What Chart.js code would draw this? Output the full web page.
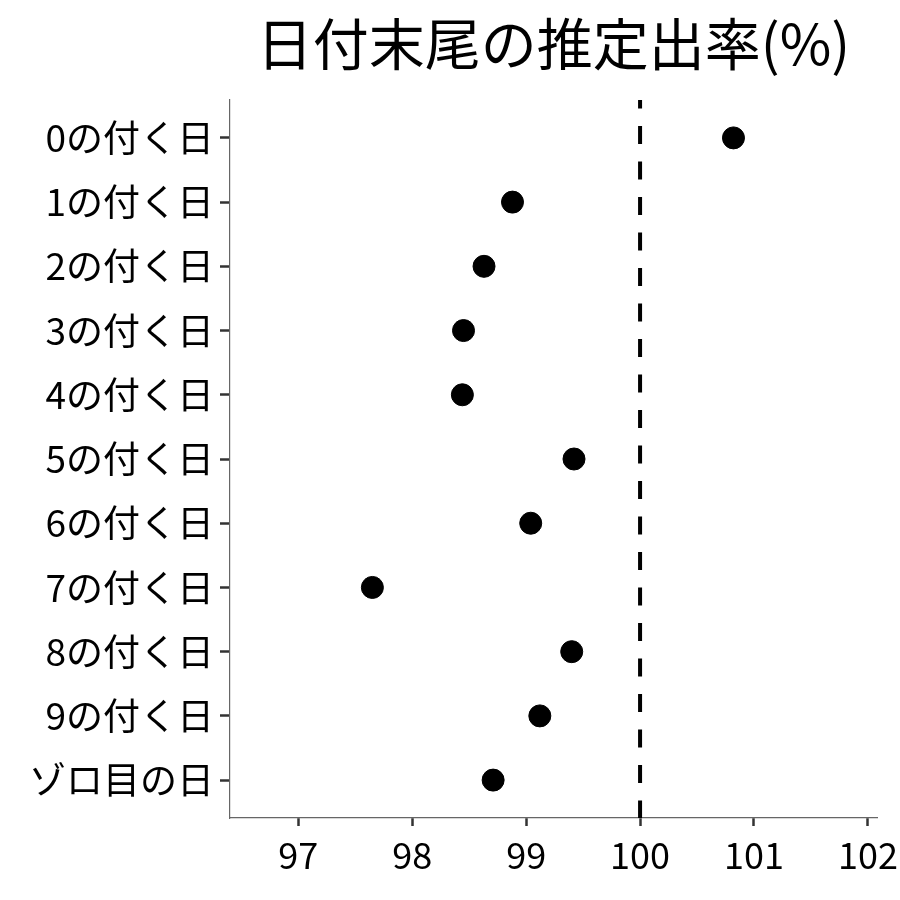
<!DOCTYPE html>
<html>
<head>
<meta charset="utf-8">
<script src="https://cdn.jsdelivr.net/npm/chart.js@4.4.1/dist/chart.umd.min.js"></script>
<style>
  html, body { margin: 0; padding: 0; background: #fff; }
  #wrap { width: 900px; height: 900px; }
</style>
</head>
<body>
<div id="wrap"><canvas id="chart" width="900" height="900"></canvas></div>
<script>
// ---- data ----
const titleText = '日付末尾の推定出率(%)';
const categories = ['0の付く日', '1の付く日', '2の付く日', '3の付く日', '4の付く日',
    '5の付く日', '6の付く日', '7の付く日', '8の付く日', '9の付く日', 'ゾロ目の日'];
const rates = [100.82, 98.88, 98.63, 98.45, 98.44, 99.42, 99.04, 97.65, 99.40, 99.12, 98.71];
const xTicks = [97, 98, 99, 100, 101, 102];
const refValue = 100;

const FONT = "'Noto Sans CJK JP', 'Noto Sans', sans-serif";

// dashed reference line at 100 + title centred over the panel
const refLinePlugin = {
    id: 'refLine',
    afterDatasetsDraw(chart) {
        const { ctx, chartArea, scales } = chart;
        const x = scales.x.getPixelForValue(refValue);
        ctx.save();
        ctx.strokeStyle = '#000';
        ctx.lineWidth = 4;
        ctx.setLineDash([18, 17.5]);
        ctx.lineDashOffset = 9.5;
        ctx.beginPath();
        ctx.moveTo(x, chartArea.top);
        ctx.lineTo(x, chartArea.bottom);
        ctx.stroke();
        ctx.restore();
    },
    afterDraw(chart) {
        const { ctx, chartArea } = chart;
        ctx.save();
        ctx.fillStyle = '#000';
        ctx.font = `56px ${FONT}`;
        ctx.textAlign = 'center';
        ctx.textBaseline = 'middle';
        ctx.fillText(titleText, (chartArea.left + chartArea.right) / 2, 44);
        ctx.restore();
    },
};

const ctx = document.getElementById('chart').getContext('2d');
new Chart(ctx, {
    type: 'scatter',
    data: {
        datasets: [{
            data: rates.map((v, i) => ({ x: v, y: i })),
            backgroundColor: '#000',
            borderColor: '#000',
            pointRadius: 11,
            pointHoverRadius: 11,
        }],
    },
    options: {
        responsive: false,
        animation: false,
        layout: { padding: { top: 100, right: 23, left: 0, bottom: 0 } },
        plugins: {
            legend: { display: false },
            tooltip: { enabled: false },
        },
        scales: {
            x: {
                type: 'linear',
                min: 96.4,
                max: 102.08,
                afterBuildTicks(scale) {
                    scale.ticks = xTicks.map(v => ({ value: v }));
                },
                afterFit(scale) {
                    scale.height = 82;
                    // let the last label hang into the right margin like the original
                    scale.paddingRight = 0;
                    scale.paddingLeft = 0;
                },
                grid: { drawOnChartArea: false, drawTicks: true, tickLength: 8, tickWidth: 2.5, color: '#333' },
                border: { display: true, color: '#666', width: 1.2 },
                ticks: { color: '#000', padding: 8, font: { family: FONT, size: 36 }, maxRotation: 0 },
            },
            y: {
                type: 'linear',
                reverse: true,
                min: -0.59,
                max: 10.59,
                afterBuildTicks(scale) {
                    scale.ticks = categories.map((c, i) => ({ value: i }));
                },
                afterFit(scale) {
                    scale.width = 230;
                    scale.paddingTop = 0;
                    scale.paddingBottom = 0;
                },
                grid: { drawOnChartArea: false, drawTicks: true, tickLength: 10, tickWidth: 2.5, color: '#333' },
                border: { display: true, color: '#666', width: 1.2 },
                ticks: {
                    color: '#000',
                    padding: 6,
                    font: { family: FONT, size: 37 },
                    callback: (v) => categories[v] ?? '',
                },
            },
        },
    },
    plugins: [refLinePlugin],
});
</script>
</body>
</html>
